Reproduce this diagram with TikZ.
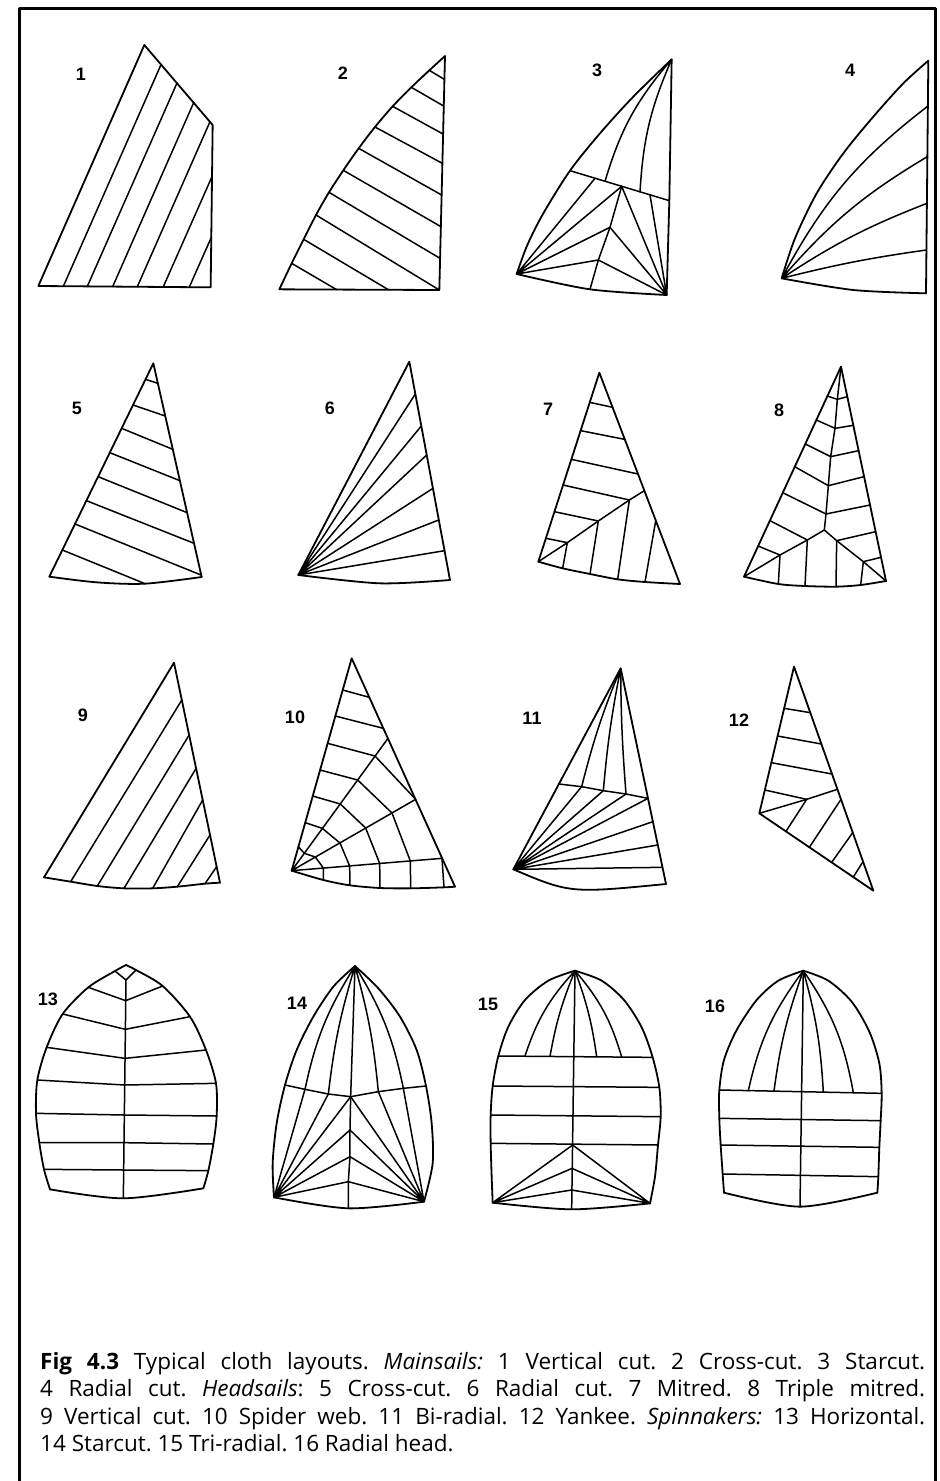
\documentclass[tikz,border=0pt]{standalone}
\usepackage{fontspec}
\setmainfont{Open Sans}
\newfontfamily\labelfont{Liberation Sans}
\usetikzlibrary{calc}
\begin{document}
\begin{tikzpicture}[x=1pt,y=-1pt,line join=round,line cap=round,
  outline/.style={line width=1.8pt},
  seam/.style={line width=1.5pt},
  sailno/.style={font=\labelfont\bfseries\fontsize{18}{18}\selectfont,inner sep=0pt},
  zoomed/.style={shift={#1},scale=0.33333}]
\useasboundingbox (0,0) rectangle (940,1481);
\fill[white] (0,0) rectangle (940,1481);
% frame
\draw[line width=2.6pt,line cap=butt] (19.7,1490) -- (19.7,8.7) -- (935.5,8.7) -- (935.5,1490);

% ---------- 1 vertical cut mainsail
\begin{scope}[zoomed={(20,30)}]
\draw[outline] (55,768) -- (373,45) -- (578,285) -- (572,772) -- cycle;
\draw[seam] (130,769) -- (423,104) (202,769) -- (471,159) (278,770) -- (521,218)
  (352,770) -- (570,275) (430,770) -- (576,440) (508,771) -- (574,622);
\end{scope}

% ---------- 2 cross-cut mainsail
\begin{scope}[zoomed={(20,30)}]
\draw[outline] plot[smooth] coordinates {(778,778) (815,700) (851,628) (888,555) (927,487) (970,421) (1016,355) (1065,291) (1118,229) (1174,172) (1228,121) (1275,78)} -- (1258,780) -- cycle;
\draw[seam] (1228,121) -- (1273,148) (1174,172) -- (1271,228) (1118,229) -- (1269,312)
  (1065,291) -- (1267,400) (1016,355) -- (1265,495) (970,421) -- (1263,590)
  (927,487) -- (1260,685) (888,555) -- (1258,780) (851,628) -- (1105,779) (815,700) -- (950,779);
\end{scope}

% ---------- 3 starcut mainsail
\begin{scope}[zoomed={(470,30)}]
\draw[outline] plot[smooth] coordinates {(140,732) (172,645) (220,550) (300,422) (390,310) (490,200) (605,88)} -- (598,512) -- (590,795);
\draw[outline] plot[smooth] coordinates {(140,732) (360,778) (590,795)};
\draw[seam] (300,422) -- (598,512);
\draw[seam] (605,88) to[bend right=12] (405,454) (605,88) to[bend right=10] (510,486);
\draw[seam] (455,469) -- (420,592) -- (385,690) -- (360,778);
\draw[seam] (375,445) -- (140,732) -- (455,469) (140,732) -- (420,592) (140,732) -- (385,690);
\draw[seam] (540,495) -- (590,795) -- (455,469) (590,795) -- (420,592) (590,795) -- (385,690);
\end{scope}

% ---------- 4 radial mainsail
\begin{scope}[zoomed={(470,30)}]
\draw[outline] plot[smooth] coordinates {(935,745) (975,625) (1040,490) (1120,370) (1210,260) (1300,160) (1375,92)} -- (1368,790);
\draw[outline] plot[smooth] coordinates {(935,745) (1150,780) (1368,790)};
\draw[seam] (935,745) to[bend left=12] (1374,228) (935,745) to[bend left=9] (1372,380)
  (935,745) to[bend left=6] (1371,520) (935,745) to[bend left=3] (1369,660);
\end{scope}

% ---------- 5 cross-cut headsail
\begin{scope}[zoomed={(20,320)}]
\draw[outline] (88,770) -- (400,130) -- (545,771);
\draw[outline] plot[smooth] coordinates {(88,770) (230,787) (375,791) (545,771)};
\draw[seam] (376.6,178) -- (413.6,190) (339,255) -- (435.8,288) (304.9,325) -- (458.5,388)
  (269.4,398) -- (479.8,482) (234.3,470) -- (501.5,578) (199.2,542) -- (522.3,670)
  (165,612) -- (543,765) (127,690) -- (375,791);
\end{scope}

% ---------- 6 radial headsail
\begin{scope}[zoomed={(20,320)}]
\draw[outline] (835,765) -- (1168,125) -- (1290,780);
\draw[outline] plot[smooth] coordinates {(835,765) (1080,790) (1290,780)};
\draw[seam] (835,765) -- (1186,222) (835,765) -- (1204,318) (835,765) -- (1220,405)
  (835,765) -- (1239,505) (835,765) -- (1256,600) (835,765) -- (1274,692);
\end{scope}

% ---------- 7 mitred headsail
\begin{scope}[zoomed={(470,320)}]
\draw[outline] (205,725) -- (388,158) -- (630,792);
\draw[outline] plot[smooth] coordinates {(205,725) (278,745) (360,762) (443,778) (525,786) (630,792)};
\draw[seam] (359,247) -- (428,262) (332,332) -- (464,358) (304,418) -- (504,462)
  (279,495) -- (478,540) (253,575) -- (385,603) (228,655) -- (292,668);
\draw[seam] (205,725) -- (292,668) -- (385,603) -- (478,540) -- (523,512);
\draw[seam] (292,668) -- (278,745) (385,603) -- (360,762) (478,540) -- (443,778) (557,603) -- (525,786);
\end{scope}

% ---------- 8 triple mitred headsail
\begin{scope}[zoomed={(470,320)}]
\draw[outline] (822,770) -- (1113,140) -- (1248,783);
\draw[outline] plot[smooth] coordinates {(822,770) (925,792) (1005,798) (1098,800) (1172,795) (1248,783)};
\draw[seam] (1113,140) -- (1102,238) -- (1095,325) -- (1082,410) -- (1075,497) -- (1068,582) -- (1063,630);
\draw[seam] (1072,228) -- (1102,238) -- (1132,230) (1039,300) -- (1095,325) -- (1150,316)
  (1006,372) -- (1082,410) -- (1166,392) (974,440) -- (1075,497) -- (1182,470)
  (938,518) -- (1068,582) -- (1200,555);
\draw[seam] (900,602) -- (1012,660) -- (1063,630) -- (1100,662) -- (1217,635);
\draw[seam] (864,678) -- (930,705) (822,770) -- (930,705) -- (1012,660);
\draw[seam] (1100,662) -- (1180,725) -- (1248,783) (1180,725) -- (1233,712);
\draw[seam] (930,705) -- (925,792) (1012,660) -- (1005,798) (1100,662) -- (1098,800) (1180,725) -- (1172,795);
\end{scope}

% ---------- 9 vertical cut headsail
\begin{scope}[zoomed={(20,640)}]
\draw[outline] (72,712) -- (462,68) -- (600,728);
\draw[outline] plot[smooth] coordinates {(72,712) (152,725) (232,738) (312,745) (398,745) (472,740) (555,731) (600,728)};
\draw[seam] (152,725) -- (485.4,180) (232,738) -- (507.4,285) (312,745) -- (528.3,385)
  (398,745) -- (548.1,480) (472,740) -- (570.1,585) (555,731) -- (590,680);
\end{scope}

% ---------- 10 spider web
\begin{scope}[zoomed={(20,640)}]
\draw[outline] (815,692) -- (995,55) -- (1305,740);
\draw[outline] plot[smooth] coordinates {(815,692) (910,720) (990,736) (1080,744) (1172,745) (1272,742) (1305,740)};
\draw[seam] (968,150) -- (1048,172) (946,228) -- (1090,265);
\draw[seam] (815,692) -- (1104,295) (815,692) -- (1187,478) (815,692) -- (1266,655);
\draw[seam] (923,310) -- (1065,348) -- (1187,478);
\draw[seam] (900,390) -- (1013,420) -- (1116,519) -- (1171,663) -- (1172,745);
\draw[seam] (878,468) -- (961,492) -- (1037,564) -- (1079,670) -- (1080,744);
\draw[seam] (856,548) -- (907,565) -- (960,609) -- (989,678) -- (990,736);
\draw[seam] (835,620) -- (853,640) -- (886,651) -- (910,684) -- (910,720);
\draw[seam] (1266,655) -- (1272,742);
\end{scope}

% ---------- 11 bi-radial
\begin{scope}[zoomed={(470,640)}]
\draw[outline] (130,688) -- (452,85) -- (588,732);
\draw[outline] (130,688) .. controls (300,760) .. (588,732);
\draw[seam] (266.7,432) -- (335,440) -- (400,452) -- (468,462) -- (534,475);
\draw[seam] (452,85) to[bend right=4] (335,440) (452,85) to[bend right=3] (400,452) (452,85) to[bend right=2] (468,462);
\draw[seam] (130,688) -- (335,440) (130,688) -- (400,452) (130,688) -- (468,462) (130,688) -- (534,475)
  (130,688) -- (548.7,545) (130,688) -- (563.4,615) (130,688) -- (577.5,682);
\end{scope}

% ---------- 12 yankee
\begin{scope}[zoomed={(470,640)}]
\draw[outline] (868,520) -- (972,80) -- (1210,752) -- cycle;
\draw[seam] (942.5,205) -- (1021,218) (922.8,288) -- (1054,312) (904,368) -- (1086,402) (884.5,450) -- (1010,478);
\draw[seam] (868,520) -- (1010,478) -- (1102,448);
\draw[seam] (1010,478) -- (948,574) (1113,478) -- (1018,622) (1148,578) -- (1085,667) (1179,665) -- (1150,711);
\end{scope}

% ---------- 13 horizontal spinnaker
\begin{scope}[zoomed={(20,950)}]
\draw[outline] plot[smooth] coordinates {(90,718) (72,658) (58,578) (48,490) (52,390) (80,292) (128,192) (205,112) (285,63) (318,45)};
\draw[outline] plot[smooth] coordinates {(318,45) (348,60) (428,108) (510,200) (558,300) (588,400) (590,498) (580,582) (565,662) (550,715)};
\draw[outline] plot[smooth] coordinates {(90,718) (310,745) (550,715)};
\draw[seam] (318,90) -- (310,745) (285,63) -- (318,90) -- (348,60);
\draw[seam] (205,112) -- (317,152) -- (428,108) (128,192) -- (316,238) -- (510,200)
  (80,292) -- (315,325) -- (558,300) (52,390) -- (314,405) -- (588,400)
  (48,490) -- (313,495) -- (590,498) (58,578) -- (312,578) -- (580,582)
  (72,658) -- (311,660) -- (565,662);
\end{scope}

% ---------- 14 starcut spinnaker
\begin{scope}[zoomed={(20,950)}]
\draw[outline] plot[smooth] coordinates {(762,742) (758,640) (770,520) (795,405) (830,300) (880,200) (940,110) (1005,48)};
\draw[outline] plot[smooth] coordinates {(1005,48) (1075,115) (1140,200) (1190,300) (1218,408) (1235,520) (1238,640) (1212,755)};
\draw[outline] plot[smooth] coordinates {(762,742) (985,775) (1212,755)};
\draw[seam] (795,405) -- (855,418) -- (925,432) -- (992,440) -- (1075,425) -- (1150,415) -- (1218,408);
\draw[seam] (1005,48) to[bend right=10] (855,418) (1005,48) to[bend right=5] (925,432) (1005,48) -- (992,440)
  (1005,48) to[bend left=5] (1075,425) (1005,48) to[bend left=10] (1150,415);
\draw[seam] (992,440) -- (990,540) -- (990,620) -- (985,695) -- (985,775);
\draw[seam] (855,418) -- (762,742) -- (925,432) (762,742) -- (992,440) (762,742) -- (990,540) (762,742) -- (990,620) (762,742) -- (985,695);
\draw[seam] (1150,415) -- (1212,755) -- (1075,425) (1212,755) -- (992,440) (1212,755) -- (990,540) (1212,755) -- (990,620) (1212,755) -- (985,695);
\end{scope}

% ---------- 15 tri-radial spinnaker
\begin{scope}[zoomed={(470,950)}]
\draw[outline] plot[smooth] coordinates {(68,758) (65,680) (62,580) (62,495) (68,408) (85,318) (115,230) (165,150) (235,92) (315,62)};
\draw[outline] plot[smooth] coordinates {(315,62) (395,92) (462,150) (515,232) (548,322) (568,412) (572,500) (564,585) (555,680) (540,760)};
\draw[outline] plot[smooth] coordinates {(68,758) (305,778) (540,760)};
\draw[seam] (85,318) -- (548,322) (68,408) -- (568,412) (62,495) -- (572,500) (62,580) -- (564,585);
\draw[seam] (315,62) -- (305,778);
\draw[seam] (315,62) to[bend right=12] (165,318) (315,62) to[bend right=6] (240,319)
  (315,62) to[bend left=6] (380,320) (315,62) to[bend left=12] (455,321);
\draw[seam] (68,758) -- (308,585) -- (540,760) (68,758) -- (306,655) -- (540,760) (68,758) -- (305,720) -- (540,760);
\end{scope}

% ---------- 16 radial head spinnaker
\begin{scope}[zoomed={(470,950)}]
\draw[outline] plot[smooth] coordinates {(762,728) (758,672) (752,585) (748,505) (748,420) (762,330) (800,240) (860,150) (925,92) (1000,62)};
\draw[outline] plot[smooth] coordinates {(1000,62) (1075,92) (1145,155) (1198,245) (1228,340) (1235,430) (1232,512) (1228,592) (1225,680) (1222,728)};
\draw[outline] plot[smooth] coordinates {(762,728) (990,770) (1222,728)};
\draw[seam] (748,420) -- (1235,430) (748,505) -- (1232,512) (752,585) -- (1228,592) (758,672) -- (1225,680);
\draw[seam] (1000,62) -- (990,770);
\draw[seam] (1000,62) to[bend right=12] (835,422) (1000,62) to[bend right=6] (912,423)
  (1000,62) to[bend left=6] (1060,426) (1000,62) to[bend left=12] (1150,428);
\end{scope}

% ---------- sail numbers
\node[sailno] (n1) at (81,74) {1};
\node[sailno] (n2) at (343,73) {2};
\node[sailno] (n3) at (597,70) {3};
\node[sailno] (n4) at (850,70) {4};
\node[sailno] (n5) at (77,408) {5};
\node[sailno] (n6) at (330,408) {6};
\node[sailno] (n7) at (548,409) {7};
\node[sailno] (n8) at (779,410) {8};
\node[sailno] (n9) at (83,715) {9};
\node[sailno] (n10) at (295,717) {10};
\node[sailno] (n11) at (532,718) {11};
\node[sailno] (n12) at (739,720) {12};
\node[sailno] (n13) at (48,999) {13};
\node[sailno] (n14) at (297,1003) {14};
\node[sailno] (n15) at (488,1004) {15};
\node[sailno] (n16) at (715,1006) {16};

% ---------- caption
\node[anchor=north west,inner sep=0pt,text width=885pt,align=justify,
  font=\fontsize{22.5}{27.5}\selectfont] (cap) at (40,1352)
  {\hyphenpenalty=10000\frenchspacing\textbf{Fig 4.3} Typical cloth layouts. \textit{Mainsails:} 1 Vertical cut. 2 Cross-cut. 3 Starcut.\linebreak
   4 Radial cut. \textit{Headsails}: 5 Cross-cut. 6 Radial cut. 7 Mitred. 8 Triple mitred.\linebreak
   9 Vertical cut. 10 Spider web. 11 Bi-radial. 12 Yankee. \textit{Spinnakers:} 13 Horizontal.\linebreak
   14 Starcut. 15 Tri-radial. 16 Radial head.};
\end{tikzpicture}
\end{document}
